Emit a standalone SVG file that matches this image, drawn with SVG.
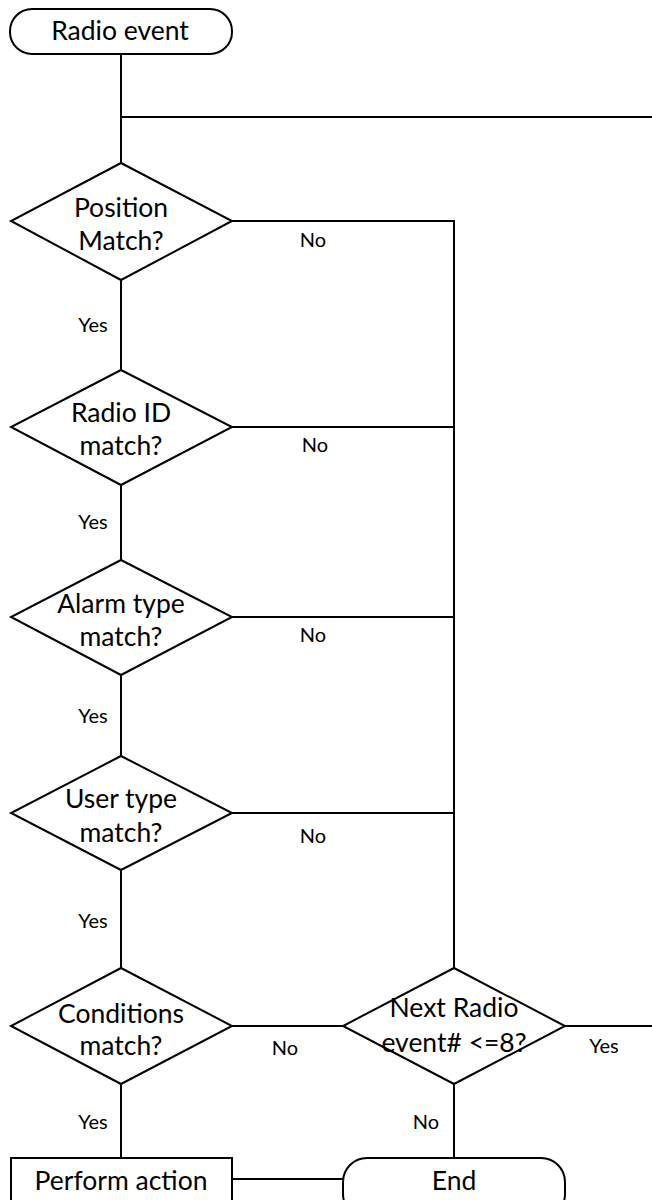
<svg xmlns="http://www.w3.org/2000/svg" width="652" height="1200" viewBox="0 0 652 1200">
<style>
.s{fill:#fff;stroke:#000;stroke-width:2}
.c{fill:none;stroke:#000;stroke-width:2}
.t{font-family:Lato,"Liberation Sans",sans-serif;font-size:26.5px;fill:#000;text-anchor:middle}
.l{font-family:Lato,"Liberation Sans",sans-serif;font-size:20px;fill:#000;text-anchor:middle}
</style>
<rect width="652" height="1200" fill="#fff"/>
<g id="connectors">
<path class="c" d="M121 54V163M121 117H652"/>
<path class="c" d="M232 221H454V968"/>
<path class="c" d="M121 280V370M232 427H454"/>
<path class="c" d="M121 485V560M232 617H454"/>
<path class="c" d="M121 675V756M232 813H454"/>
<path class="c" d="M121 870V968"/>
<path class="c" d="M232 1026H343M565 1026H652"/>
<path class="c" d="M121 1084V1158M454 1084V1158M232 1179H343"/>
<text class="l" x="313" y="247">No</text>
<text class="l" x="93" y="332">Yes</text>
<text class="l" x="315" y="452">No</text>
<text class="l" x="93" y="529">Yes</text>
<text class="l" x="313" y="642">No</text>
<text class="l" x="93" y="723">Yes</text>
<text class="l" x="313" y="843">No</text>
<text class="l" x="93" y="928">Yes</text>
<text class="l" x="285" y="1055">No</text>
<text class="l" x="604" y="1053">Yes</text>
<text class="l" x="426" y="1129">No</text>
<text class="l" x="93" y="1129">Yes</text>
</g>
<g id="start">
<rect class="s" x="10" y="9" width="222" height="45" rx="22"/>
<text class="t" x="120" y="40">Radio event</text>
</g>
<g id="position">
<path class="s" d="M121 163L232 221L121 280L11 221Z"/>
<text class="t" x="121" y="217">Position</text>
<text class="t" x="121" y="250">Match?</text>
</g>
<g id="radioid">
<path class="s" d="M121 370L232 427L121 485L11 427Z"/>
<text class="t" x="121" y="422">Radio ID</text>
<text class="t" x="121" y="455">match?</text>
</g>
<g id="alarm">
<path class="s" d="M121 560L232 617L121 675L11 617Z"/>
<text class="t" x="121" y="613">Alarm type</text>
<text class="t" x="121" y="646">match?</text>
</g>
<g id="user">
<path class="s" d="M121 756L232 813L121 870L11 813Z"/>
<text class="t" x="121" y="808">User type</text>
<text class="t" x="121" y="842">match?</text>
</g>
<g id="conditions">
<path class="s" d="M121 968L232 1026L121 1084L11 1026Z"/>
<text class="t" x="121" y="1023">Conditions</text>
<text class="t" x="121" y="1055">match?</text>
</g>
<g id="next">
<path class="s" d="M454 968L565 1026L454 1084L343 1026Z"/>
<text class="t" x="454" y="1017">Next Radio</text>
<text class="t" x="454" y="1052">event# &lt;=8?</text>
</g>
<g id="perform">
<rect class="s" x="11" y="1158" width="221" height="60"/>
<text class="t" x="121" y="1190">Perform action</text>
</g>
<g id="end">
<rect class="s" x="343" y="1158" width="222" height="60" rx="24"/>
<text class="t" x="454" y="1190">End</text>
</g>
</svg>
